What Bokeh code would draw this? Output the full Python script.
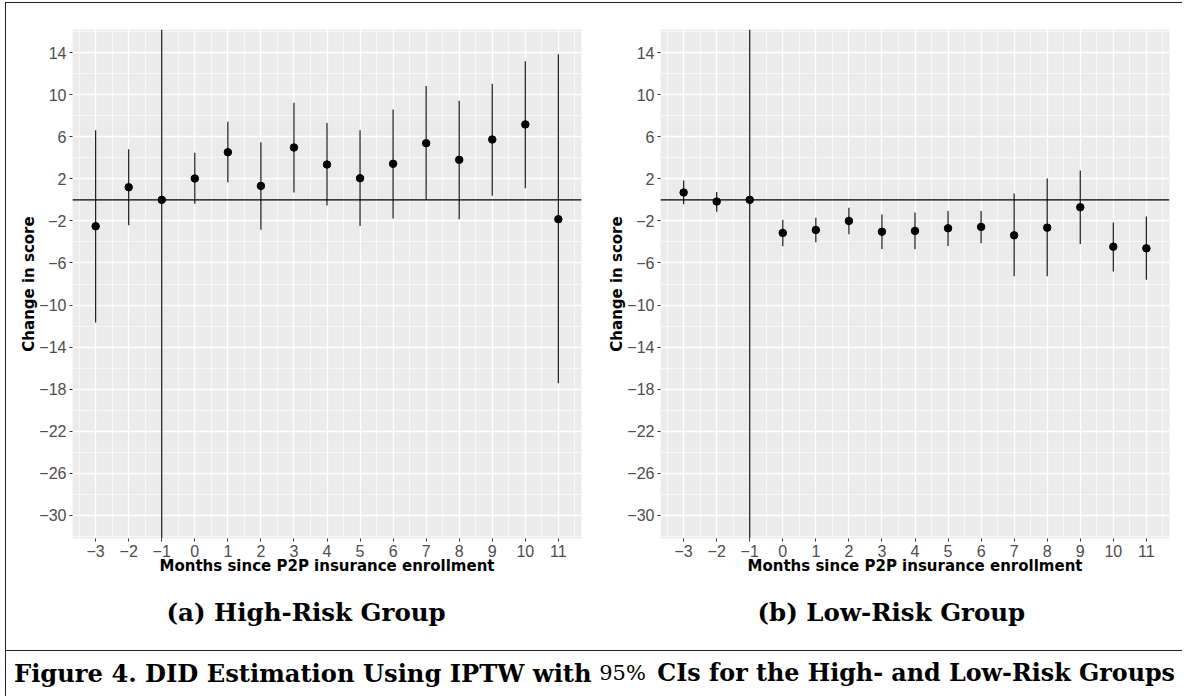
from bokeh.plotting import figure
from bokeh.layouts import column, row
from bokeh.models import FixedTicker, Span, Title, Range1d
from bokeh.embed import file_html
from bokeh.resources import INLINE
from bokeh.core.properties import value

# ---------------- data ----------------
months = [-3, -2, -1, 0, 1, 2, 3, 4, 5, 6, 7, 8, 9, 10, 11]

high_est = [-2.51, 1.20, 0.0, 2.03, 4.53, 1.33, 4.98, 3.36, 2.06, 3.43, 5.39, 3.81, 5.74, 7.17, -1.84]
high_lo = [-11.66, -2.42, 0.0, -0.38, 1.68, -2.83, 0.70, -0.54, -2.48, -1.78, -0.02, -1.84, 0.38, 1.11, -17.44]
high_hi = [6.63, 4.82, 0.0, 4.48, 7.43, 5.49, 9.24, 7.30, 6.63, 8.60, 10.82, 9.43, 11.05, 13.17, 13.84]

low_est = [0.70, -0.16, 0.0, -3.14, -2.86, -2.00, -3.03, -2.95, -2.70, -2.57, -3.37, -2.64, -0.70, -4.45, -4.61]
low_lo = [-0.41, -1.14, 0.0, -4.41, -4.03, -3.27, -4.67, -4.70, -4.38, -4.13, -7.27, -7.27, -4.19, -6.80, -7.59]
low_hi = [1.84, 0.76, 0.0, -1.88, -1.71, -0.76, -1.40, -1.21, -1.05, -1.05, 0.60, 2.03, 2.79, -2.16, -1.59]

y_ticks = list(range(-30, 15, 4))
y_minor = list(range(-32, 17, 4))
x_minor = [m + 0.5 for m in range(-4, 12)]

x_title = "Months since P2P insurance enrollment"
y_title = "Change in score"
sub_a = "(a) High-Risk Group"
sub_b = "(b) Low-Risk Group"
cap1 = "Figure 4.  DID Estimation Using IPTW with"
cap2 = "95%"
cap3 = "CIs for the High- and Low-Risk Groups"


def fmt(v):
    return ("\u2212" + str(-v)) if v < 0 else str(v)


def panel(est, lo, hi, subtitle, min_left, min_right, sub_offset):
    p = figure(frame_width=509, frame_height=509,
               min_border_left=min_left, min_border_right=min_right,
               min_border_top=26, min_border_bottom=112,
               x_range=Range1d(-3.7, 11.7), y_range=Range1d(-32.2, 16.2),
               output_backend="svg", toolbar_location=None,
               background_fill_color="#EBEBEB", border_fill_color="white",
               outline_line_color=None)
    p.xaxis.ticker = FixedTicker(ticks=months, minor_ticks=x_minor)
    p.yaxis.ticker = FixedTicker(ticks=y_ticks, minor_ticks=y_minor)
    p.xaxis.major_label_overrides = {m: fmt(m) for m in months}
    p.yaxis.major_label_overrides = {t: fmt(t) for t in y_ticks}
    for ax in (p.xaxis, p.yaxis):
        ax.axis_line_color = None
        ax.major_tick_line_color = "#333333"
        ax.major_tick_out = 3
        ax.major_tick_in = 0
        ax.minor_tick_line_color = None
        ax.major_label_text_font = "Liberation Sans"
        ax.major_label_text_font_size = "16px"
        ax.major_label_text_color = "#4D4D4D"
        ax.major_label_standoff = 2
        ax.axis_label_text_font = "DejaVu Sans"
        ax.axis_label_text_font_size = "15px"
        ax.axis_label_text_font_style = "bold"
        ax.axis_label_text_color = "black"
    p.xaxis.axis_label_standoff = -3
    p.yaxis.axis_label_standoff = -2
    p.xaxis.axis_label = x_title
    p.yaxis.axis_label = y_title
    for g in (p.xgrid, p.ygrid):
        g.grid_line_color = "white"
        g.grid_line_width = 1.3
        g.minor_grid_line_color = "white"
        g.minor_grid_line_width = 0.6

    p.add_layout(Span(location=0, dimension="width", line_color="black", line_width=1.1))
    p.add_layout(Span(location=-1, dimension="height", line_color="black", line_width=1.1))

    p.segment(x0=months, y0=lo, x1=months, y1=hi, line_color="#1a1a1a", line_width=1.2)
    p.scatter(x=months, y=est, size=7.5, fill_color="black", line_color="black")

    t = Title(text=subtitle, align="left", offset=sub_offset,
              text_font="DejaVu Serif", text_font_size="24.5px",
              text_font_style="bold", text_color="black", standoff=37)
    p.add_layout(t, "below")
    return p


p1 = panel(high_est, high_lo, high_hi, sub_a, 66, 19, 94)
p2 = panel(low_est, low_lo, low_hi, sub_b, 60, 13, 97)

cap = figure(width=1176, height=46, x_range=Range1d(0, 1176), y_range=Range1d(0, 46),
             min_border=0, min_border_left=0, min_border_right=0,
             min_border_top=0, min_border_bottom=0,
             x_axis_type=None, y_axis_type=None,
             output_backend="svg", toolbar_location=None,
             outline_line_color=None, border_fill_color="white",
             background_fill_color="white",
             styles={"border-top": "1.5px solid #222222"})
cap.xgrid.visible = False
cap.ygrid.visible = False
cap.text(x=[7.5], y=[24.5], text=[cap1], text_font=value("DejaVu Serif"),
         text_font_style="bold", text_font_size="24.2px", text_align="left",
         text_baseline="middle", text_color="black")
cap.text(x=[616], y=[24.5], text=[cap2], text_font=value("DejaVu Serif"),
         text_font_style="normal", text_font_size="21px", text_align="center",
         text_baseline="middle", text_color="black")
cap.text(x=[1168.5], y=[24.5], text=[cap3], text_font=value("DejaVu Serif"),
         text_font_style="bold", text_font_size="23.8px", text_align="right",
         text_baseline="middle", text_color="black")

root = column(row(p1, p2), cap,
              styles={"margin-left": "5px", "margin-top": "2px",
                      "border-left": "1.5px solid #222222",
                      "border-top": "1.5px solid #222222"})

open("out.html", "w").write(file_html(root, INLINE))
